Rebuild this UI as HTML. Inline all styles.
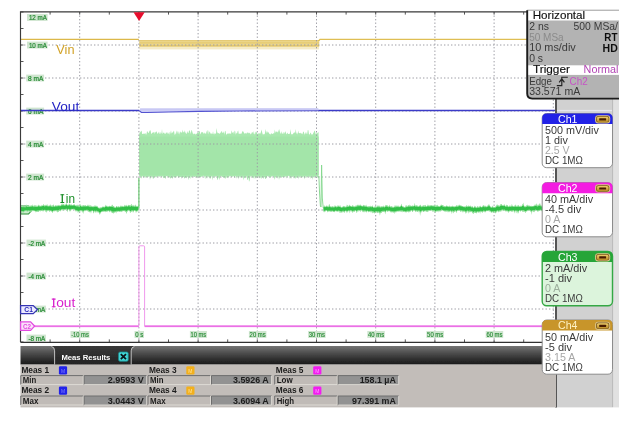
<!DOCTYPE html>
<html><head><meta charset="utf-8"><title>Oscilloscope</title>
<style>
html,body{margin:0;padding:0;background:#fff;}
svg{display:block;font-family:"Liberation Sans",sans-serif;}
</style></head><body>
<svg width="632" height="423" viewBox="0 0 632 423">
<defs><filter id="soft" x="0" y="0" width="632" height="423" filterUnits="userSpaceOnUse"><feGaussianBlur stdDeviation="0.38"/></filter></defs>
<g filter="url(#soft)">
<rect x="0" y="0" width="632" height="423" fill="#fff"/>
<rect x="556" y="10" width="57" height="397.4" fill="#d1d1d1"/>
<rect x="612.5" y="10" width="6.5" height="397.4" fill="#e1e1e1"/>
<rect x="612.1" y="99" width="1" height="308" fill="#b8b8b8"/>
<rect x="557" y="109.9" width="55" height="1.3" fill="#e6e6ee"/>
<rect x="20.5" y="12.0" width="535.5" height="330.0" fill="#fff"/>
<path d="M139.2 134.1 L139.8 132.6 L140.4 132.3 L141.0 130.9 L141.6 130.8 L142.2 134.0 L142.8 134.0 L143.4 133.4 L144.0 133.9 L144.6 133.7 L145.2 132.8 L145.8 134.6 L146.4 134.5 L147.0 131.3 L147.6 131.4 L148.2 133.3 L148.8 132.5 L149.4 131.3 L150.0 130.3 L150.6 130.6 L151.2 134.1 L151.8 133.5 L152.4 132.5 L153.0 132.8 L153.6 131.7 L154.2 134.0 L154.8 131.7 L155.4 132.7 L156.0 131.5 L156.6 131.5 L157.2 132.9 L157.8 133.9 L158.4 132.8 L159.0 131.4 L159.6 133.7 L160.2 133.9 L160.8 132.1 L161.4 133.7 L162.0 129.1 L162.6 134.2 L163.2 132.4 L163.8 132.7 L164.4 133.9 L165.0 132.2 L165.6 134.3 L166.2 132.9 L166.8 132.3 L167.4 132.6 L168.0 134.2 L168.6 133.3 L169.2 131.8 L169.8 134.7 L170.4 132.7 L171.0 130.2 L171.6 133.8 L172.2 132.1 L172.8 133.0 L173.4 131.4 L174.0 130.4 L174.6 134.7 L175.2 134.6 L175.8 133.2 L176.4 130.2 L177.0 134.3 L177.6 130.6 L178.2 134.2 L178.8 130.9 L179.4 134.7 L180.0 131.1 L180.6 132.6 L181.2 132.0 L181.8 133.2 L182.4 129.6 L183.0 132.9 L183.6 131.6 L184.2 132.6 L184.8 130.2 L185.4 132.6 L186.0 133.4 L186.6 134.0 L187.2 130.9 L187.8 132.7 L188.4 133.2 L189.0 130.8 L189.6 130.2 L190.2 131.7 L190.8 134.0 L191.4 129.8 L192.0 130.8 L192.6 132.7 L193.2 134.6 L193.8 133.6 L194.4 134.0 L195.0 133.3 L195.6 134.7 L196.2 133.7 L196.8 133.7 L197.4 132.6 L198.0 132.3 L198.6 132.9 L199.2 131.3 L199.8 130.9 L200.4 134.4 L201.0 133.3 L201.6 131.8 L202.2 132.4 L202.8 132.0 L203.4 132.9 L204.0 134.2 L204.6 132.3 L205.2 133.7 L205.8 133.4 L206.4 130.5 L207.0 134.3 L207.6 130.3 L208.2 130.5 L208.8 134.6 L209.4 131.2 L210.0 132.3 L210.6 133.6 L211.2 134.2 L211.8 133.1 L212.4 134.3 L213.0 131.2 L213.6 134.1 L214.2 134.6 L214.8 133.0 L215.4 133.8 L216.0 133.6 L216.6 127.9 L217.2 132.1 L217.8 133.3 L218.4 132.9 L219.0 133.5 L219.6 134.1 L220.2 132.0 L220.8 133.4 L221.4 130.9 L222.0 131.4 L222.6 133.1 L223.2 133.1 L223.8 131.2 L224.4 134.7 L225.0 130.7 L225.6 131.2 L226.2 134.6 L226.8 134.6 L227.4 133.6 L228.0 133.6 L228.6 133.6 L229.2 134.0 L229.8 133.1 L230.4 133.5 L231.0 134.2 L231.6 130.3 L232.2 132.3 L232.8 133.0 L233.4 131.5 L234.0 134.5 L234.6 130.4 L235.2 131.2 L235.8 134.7 L236.4 132.6 L237.0 133.7 L237.6 131.3 L238.2 130.4 L238.8 134.1 L239.4 133.5 L240.0 134.0 L240.6 133.5 L241.2 133.9 L241.8 132.8 L242.4 131.2 L243.0 131.3 L243.6 132.1 L244.2 133.4 L244.8 133.6 L245.4 132.7 L246.0 134.0 L246.6 133.2 L247.2 131.9 L247.8 133.3 L248.4 132.6 L249.0 133.8 L249.6 132.6 L250.2 133.6 L250.8 134.6 L251.4 133.6 L252.0 132.0 L252.6 132.2 L253.2 133.9 L253.8 131.1 L254.4 133.9 L255.0 134.6 L255.6 131.6 L256.2 132.5 L256.8 131.9 L257.4 134.4 L258.0 133.4 L258.6 133.4 L259.2 133.0 L259.8 133.8 L260.4 133.4 L261.0 131.8 L261.6 129.6 L262.2 132.5 L262.8 134.5 L263.4 134.6 L264.0 133.7 L264.6 134.6 L265.2 132.0 L265.8 129.0 L266.4 133.5 L267.0 130.5 L267.6 132.8 L268.2 131.7 L268.8 133.0 L269.4 133.7 L270.0 134.3 L270.6 134.6 L271.2 132.7 L271.8 134.1 L272.4 133.7 L273.0 134.1 L273.6 133.1 L274.2 133.6 L274.8 129.6 L275.4 133.0 L276.0 130.9 L276.6 131.9 L277.2 131.5 L277.8 132.8 L278.4 129.5 L279.0 132.7 L279.6 128.8 L280.2 132.7 L280.8 134.1 L281.4 131.0 L282.0 134.2 L282.6 133.5 L283.2 131.8 L283.8 134.1 L284.4 133.3 L285.0 131.7 L285.6 131.5 L286.2 134.4 L286.8 133.6 L287.4 132.6 L288.0 134.1 L288.6 133.9 L289.2 133.5 L289.8 134.2 L290.4 128.9 L291.0 133.4 L291.6 134.6 L292.2 134.2 L292.8 134.2 L293.4 133.3 L294.0 132.6 L294.6 132.6 L295.2 132.7 L295.8 129.0 L296.4 134.2 L297.0 132.2 L297.6 134.7 L298.2 130.5 L298.8 133.1 L299.4 132.9 L300.0 133.6 L300.6 132.5 L301.2 134.2 L301.8 132.8 L302.4 134.6 L303.0 131.9 L303.6 131.4 L304.2 133.2 L304.8 134.7 L305.4 133.3 L306.0 131.8 L306.6 133.7 L307.2 134.1 L307.8 130.1 L308.4 130.3 L309.0 134.6 L309.6 134.6 L310.2 133.2 L310.8 132.4 L311.4 134.4 L312.0 134.4 L312.6 134.5 L313.2 133.2 L313.8 132.3 L314.4 130.4 L315.0 131.3 L315.6 133.9 L316.2 134.4 L316.8 132.5 L317.4 133.5 L318.0 131.9 L318.6 132.6 L318.6 179.0 L318.0 176.7 L317.4 178.1 L316.8 176.6 L316.2 176.1 L315.6 178.1 L315.0 176.8 L314.4 176.4 L313.8 177.7 L313.2 176.8 L312.6 179.9 L312.0 176.0 L311.4 178.2 L310.8 176.4 L310.2 178.9 L309.6 176.3 L309.0 177.7 L308.4 175.9 L307.8 176.9 L307.2 176.8 L306.6 178.0 L306.0 176.0 L305.4 176.5 L304.8 179.5 L304.2 177.3 L303.6 176.0 L303.0 177.9 L302.4 176.8 L301.8 177.2 L301.2 178.0 L300.6 175.8 L300.0 177.9 L299.4 177.0 L298.8 175.9 L298.2 179.6 L297.6 176.3 L297.0 178.0 L296.4 177.1 L295.8 179.1 L295.2 177.3 L294.6 177.2 L294.0 179.1 L293.4 176.0 L292.8 177.1 L292.2 176.7 L291.6 176.8 L291.0 179.6 L290.4 176.0 L289.8 178.9 L289.2 176.1 L288.6 175.8 L288.0 176.3 L287.4 176.8 L286.8 175.9 L286.2 178.7 L285.6 176.1 L285.0 176.9 L284.4 176.8 L283.8 176.5 L283.2 177.6 L282.6 176.7 L282.0 177.5 L281.4 177.7 L280.8 176.7 L280.2 176.6 L279.6 177.4 L279.0 180.0 L278.4 176.3 L277.8 177.3 L277.2 178.7 L276.6 176.0 L276.0 177.3 L275.4 176.9 L274.8 180.1 L274.2 177.8 L273.6 176.5 L273.0 176.4 L272.4 176.1 L271.8 176.9 L271.2 175.9 L270.6 178.1 L270.0 177.4 L269.4 176.1 L268.8 177.2 L268.2 176.2 L267.6 176.2 L267.0 176.3 L266.4 178.1 L265.8 179.0 L265.2 178.7 L264.6 176.9 L264.0 177.0 L263.4 179.1 L262.8 177.6 L262.2 176.9 L261.6 179.2 L261.0 176.3 L260.4 178.5 L259.8 177.3 L259.2 178.4 L258.6 176.3 L258.0 176.6 L257.4 177.7 L256.8 178.2 L256.2 177.0 L255.6 176.4 L255.0 179.4 L254.4 175.9 L253.8 177.5 L253.2 178.5 L252.6 176.4 L252.0 178.3 L251.4 176.0 L250.8 175.9 L250.2 177.2 L249.6 180.7 L249.0 181.7 L248.4 176.4 L247.8 180.3 L247.2 179.4 L246.6 175.8 L246.0 178.6 L245.4 176.1 L244.8 178.5 L244.2 177.3 L243.6 180.4 L243.0 175.8 L242.4 177.7 L241.8 177.1 L241.2 177.6 L240.6 177.8 L240.0 176.2 L239.4 176.7 L238.8 179.6 L238.2 176.4 L237.6 176.8 L237.0 176.4 L236.4 178.8 L235.8 175.8 L235.2 176.3 L234.6 177.9 L234.0 177.1 L233.4 175.9 L232.8 176.3 L232.2 176.9 L231.6 177.3 L231.0 176.4 L230.4 176.1 L229.8 175.8 L229.2 176.7 L228.6 177.0 L228.0 178.5 L227.4 176.2 L226.8 178.2 L226.2 176.3 L225.6 178.6 L225.0 178.8 L224.4 177.1 L223.8 177.7 L223.2 177.2 L222.6 177.0 L222.0 177.0 L221.4 175.8 L220.8 177.0 L220.2 175.8 L219.6 180.6 L219.0 177.6 L218.4 177.4 L217.8 179.8 L217.2 179.8 L216.6 176.3 L216.0 176.0 L215.4 177.1 L214.8 176.3 L214.2 178.4 L213.6 176.3 L213.0 176.1 L212.4 180.4 L211.8 176.4 L211.2 176.3 L210.6 178.5 L210.0 178.8 L209.4 177.8 L208.8 176.2 L208.2 177.6 L207.6 175.9 L207.0 178.9 L206.4 176.7 L205.8 175.9 L205.2 179.2 L204.6 176.9 L204.0 175.9 L203.4 175.8 L202.8 176.1 L202.2 177.3 L201.6 176.2 L201.0 177.3 L200.4 177.0 L199.8 177.5 L199.2 177.0 L198.6 176.7 L198.0 178.5 L197.4 177.1 L196.8 177.4 L196.2 177.6 L195.6 176.1 L195.0 177.0 L194.4 177.1 L193.8 176.4 L193.2 176.7 L192.6 176.2 L192.0 177.5 L191.4 177.6 L190.8 176.1 L190.2 178.9 L189.6 177.6 L189.0 176.5 L188.4 180.2 L187.8 177.2 L187.2 176.4 L186.6 178.4 L186.0 177.3 L185.4 177.0 L184.8 178.8 L184.2 178.0 L183.6 176.9 L183.0 177.1 L182.4 177.3 L181.8 179.1 L181.2 176.4 L180.6 177.1 L180.0 176.9 L179.4 177.2 L178.8 176.8 L178.2 177.9 L177.6 175.9 L177.0 175.8 L176.4 177.6 L175.8 177.3 L175.2 177.6 L174.6 177.2 L174.0 177.2 L173.4 176.2 L172.8 178.7 L172.2 178.3 L171.6 176.5 L171.0 178.2 L170.4 178.5 L169.8 177.7 L169.2 177.1 L168.6 177.4 L168.0 176.9 L167.4 176.3 L166.8 176.3 L166.2 176.0 L165.6 179.0 L165.0 178.3 L164.4 176.9 L163.8 178.3 L163.2 177.8 L162.6 175.9 L162.0 176.4 L161.4 176.9 L160.8 176.2 L160.2 176.5 L159.6 176.4 L159.0 176.8 L158.4 176.3 L157.8 176.0 L157.2 176.9 L156.6 177.5 L156.0 176.0 L155.4 177.4 L154.8 176.5 L154.2 176.9 L153.6 178.5 L153.0 178.9 L152.4 176.7 L151.8 176.7 L151.2 176.5 L150.6 177.5 L150.0 180.1 L149.4 176.2 L148.8 176.7 L148.2 176.8 L147.6 176.4 L147.0 177.2 L146.4 177.2 L145.8 178.0 L145.2 176.2 L144.6 177.4 L144.0 176.0 L143.4 177.8 L142.8 176.5 L142.2 175.9 L141.6 178.8 L141.0 177.3 L140.4 176.2 L139.8 176.2 L139.2 176.7Z" fill="#a9e8af"/>
<rect x="139.20000000000002" y="136.5" width="179.5" height="38.6" fill="#a3e5a9"/>
<rect x="139.3" y="40.3" width="179.7" height="9.1" fill="#f5ebc6"/>
<rect x="139.3" y="40.3" width="179.9" height="6.7" fill="#ecd68c"/>
<path d="M139.3 42.9H319.2M139.3 45.6H319.2" stroke="#e3c76a" stroke-width="1" fill="none"/>
<path d="M139.3 40.6H319.2" stroke="#e0c262" stroke-width="0.8" fill="none"/>
<path d="M79.7 12.0V342.0M138.9 12.0V342.0M198.1 12.0V342.0M257.3 12.0V342.0M316.5 12.0V342.0M375.7 12.0V342.0M434.9 12.0V342.0M494.1 12.0V342.0M553.3 12.0V342.0M20.5 45.0H556.0M20.5 78.0H556.0M20.5 111.0H556.0M20.5 144.0H556.0M20.5 177.0H556.0M20.5 210.0H556.0M20.5 243.0H556.0M20.5 276.0H556.0M20.5 309.0H556.0" stroke="#9c9ca4" stroke-width="1" stroke-dasharray="1.4 2.1" fill="none"/>
<path d="M20.5 12.0v2.6M20.5 342.0v-2.6M50.1 12.0v2.6M50.1 342.0v-2.6M79.7 12.0v2.6M79.7 342.0v-2.6M109.3 12.0v2.6M109.3 342.0v-2.6M138.9 12.0v2.6M138.9 342.0v-2.6M168.5 12.0v2.6M168.5 342.0v-2.6M198.1 12.0v2.6M198.1 342.0v-2.6M227.7 12.0v2.6M227.7 342.0v-2.6M257.3 12.0v2.6M257.3 342.0v-2.6M286.9 12.0v2.6M286.9 342.0v-2.6M316.5 12.0v2.6M316.5 342.0v-2.6M346.1 12.0v2.6M346.1 342.0v-2.6M375.7 12.0v2.6M375.7 342.0v-2.6M405.3 12.0v2.6M405.3 342.0v-2.6M434.9 12.0v2.6M434.9 342.0v-2.6M464.5 12.0v2.6M464.5 342.0v-2.6M494.1 12.0v2.6M494.1 342.0v-2.6M523.7 12.0v2.6M523.7 342.0v-2.6M553.3 12.0v2.6M553.3 342.0v-2.6M20.5 12.0h3M20.5 28.5h3M20.5 45.0h3M20.5 61.5h3M20.5 78.0h3M20.5 94.5h3M20.5 111.0h3M20.5 127.5h3M20.5 144.0h3M20.5 160.5h3M20.5 177.0h3M20.5 193.5h3M20.5 210.0h3M20.5 226.5h3M20.5 243.0h3M20.5 259.5h3M20.5 276.0h3M20.5 292.5h3M20.5 309.0h3M20.5 325.5h3M20.5 342.0h3" stroke="#555" stroke-width="1" fill="none"/>
<rect x="27.0" y="14.0" width="20.6" height="6.9" fill="#cfe5cf"/>
<text x="46.9" y="19.9" font-size="6.9" fill="#258a33" stroke="#258a33" stroke-width="0.22" text-anchor="end" textLength="18.0" lengthAdjust="spacingAndGlyphs">12 mA</text>
<rect x="27.0" y="41.6" width="20.6" height="6.9" fill="#cfe5cf"/>
<text x="46.9" y="47.5" font-size="6.9" fill="#258a33" stroke="#258a33" stroke-width="0.22" text-anchor="end" textLength="18.0" lengthAdjust="spacingAndGlyphs">10 mA</text>
<rect x="26.2" y="74.6" width="17.9" height="6.9" fill="#cfe5cf"/>
<text x="43.4" y="80.5" font-size="6.9" fill="#258a33" stroke="#258a33" stroke-width="0.22" text-anchor="end" textLength="15.3" lengthAdjust="spacingAndGlyphs">8 mA</text>
<rect x="26.2" y="107.6" width="17.9" height="6.9" fill="#cfe5cf"/>
<text x="43.4" y="113.5" font-size="6.9" fill="#258a33" stroke="#258a33" stroke-width="0.22" text-anchor="end" textLength="15.3" lengthAdjust="spacingAndGlyphs">6 mA</text>
<rect x="26.2" y="140.6" width="17.9" height="6.9" fill="#cfe5cf"/>
<text x="43.4" y="146.5" font-size="6.9" fill="#258a33" stroke="#258a33" stroke-width="0.22" text-anchor="end" textLength="15.3" lengthAdjust="spacingAndGlyphs">4 mA</text>
<rect x="26.2" y="173.6" width="17.9" height="6.9" fill="#cfe5cf"/>
<text x="43.4" y="179.5" font-size="6.9" fill="#258a33" stroke="#258a33" stroke-width="0.22" text-anchor="end" textLength="15.3" lengthAdjust="spacingAndGlyphs">2 mA</text>
<rect x="26.5" y="239.6" width="19.4" height="6.9" fill="#cfe5cf"/>
<text x="45.2" y="245.5" font-size="6.9" fill="#258a33" stroke="#258a33" stroke-width="0.22" text-anchor="end" textLength="16.8" lengthAdjust="spacingAndGlyphs">-2 mA</text>
<rect x="26.5" y="272.6" width="19.4" height="6.9" fill="#cfe5cf"/>
<text x="45.2" y="278.5" font-size="6.9" fill="#258a33" stroke="#258a33" stroke-width="0.22" text-anchor="end" textLength="16.8" lengthAdjust="spacingAndGlyphs">-4 mA</text>
<rect x="26.5" y="305.6" width="19.4" height="6.9" fill="#cfe5cf"/>
<text x="45.2" y="311.5" font-size="6.9" fill="#258a33" stroke="#258a33" stroke-width="0.22" text-anchor="end" textLength="16.8" lengthAdjust="spacingAndGlyphs">-6 mA</text>
<rect x="26.5" y="334.6" width="19.4" height="6.9" fill="#cfe5cf"/>
<text x="45.2" y="340.5" font-size="6.9" fill="#258a33" stroke="#258a33" stroke-width="0.22" text-anchor="end" textLength="16.8" lengthAdjust="spacingAndGlyphs">-8 mA</text>
<rect x="70.5" y="331.0" width="19.0" height="6.9" fill="#cfe5cf"/>
<text x="88.8" y="336.9" font-size="6.5" fill="#258a33" stroke="#258a33" stroke-width="0.12" text-anchor="end" textLength="17.6" lengthAdjust="spacingAndGlyphs">-10 ms</text>
<rect x="134.5" y="331.0" width="9.5" height="6.9" fill="#cfe5cf"/>
<text x="143.3" y="336.9" font-size="6.5" fill="#258a33" stroke="#258a33" stroke-width="0.12" text-anchor="end" textLength="8.1" lengthAdjust="spacingAndGlyphs">0 s</text>
<rect x="189.9" y="331.0" width="17.0" height="6.9" fill="#cfe5cf"/>
<text x="206.2" y="336.9" font-size="6.5" fill="#258a33" stroke="#258a33" stroke-width="0.12" text-anchor="end" textLength="15.6" lengthAdjust="spacingAndGlyphs">10 ms</text>
<rect x="248.9" y="331.0" width="17.5" height="6.9" fill="#cfe5cf"/>
<text x="265.7" y="336.9" font-size="6.5" fill="#258a33" stroke="#258a33" stroke-width="0.12" text-anchor="end" textLength="16.1" lengthAdjust="spacingAndGlyphs">20 ms</text>
<rect x="308.1" y="331.0" width="17.5" height="6.9" fill="#cfe5cf"/>
<text x="324.9" y="336.9" font-size="6.5" fill="#258a33" stroke="#258a33" stroke-width="0.12" text-anchor="end" textLength="16.1" lengthAdjust="spacingAndGlyphs">30 ms</text>
<rect x="367.3" y="331.0" width="17.5" height="6.9" fill="#cfe5cf"/>
<text x="384.1" y="336.9" font-size="6.5" fill="#258a33" stroke="#258a33" stroke-width="0.12" text-anchor="end" textLength="16.1" lengthAdjust="spacingAndGlyphs">40 ms</text>
<rect x="426.4" y="331.0" width="17.5" height="6.9" fill="#cfe5cf"/>
<text x="443.2" y="336.9" font-size="6.5" fill="#258a33" stroke="#258a33" stroke-width="0.12" text-anchor="end" textLength="16.1" lengthAdjust="spacingAndGlyphs">50 ms</text>
<rect x="485.7" y="331.0" width="17.5" height="6.9" fill="#cfe5cf"/>
<text x="502.5" y="336.9" font-size="6.5" fill="#258a33" stroke="#258a33" stroke-width="0.12" text-anchor="end" textLength="16.1" lengthAdjust="spacingAndGlyphs">60 ms</text>
<path d="M20.5 39.3H138.9" stroke="#dcb84a" stroke-width="1.25" fill="none"/>
<path d="M318.5 41L320 39.3H556.0" stroke="#dfbe52" stroke-width="1.25" fill="none"/>
<path d="M140.1 108.7 L318.3 108.5 L318.3 110.7 L238.9 111.0 L198.9 111.4 L168.9 112.0 L146.9 112.5 L141.4 112.5 L139.2 110.6Z" fill="#cdcdf6"/>
<path d="M140.1 108.8H318.3" stroke="#b4b4ee" stroke-width="0.6" fill="none"/>
<path d="M20.5 110.6H139.20000000000002" stroke="#3a3ac8" stroke-width="1.5" fill="none"/>
<path d="M139.2 110.6 L141.4 112.5 L146.9 112.5 L168.9 112.0 L198.9 111.4 L238.9 111.0 L318.3 110.7" stroke="#5252d0" stroke-width="1.15" fill="none"/>
<path d="M318.3 110.6H556.0" stroke="#3a3ac8" stroke-width="1.5" fill="none"/>
<path d="M138.9 208V178" stroke="#6cc873" stroke-width="1.2" fill="none"/>
<path d="M318.9 176 L319.5 192 L320.4 206 L321 207 L321.6 165 L322.3 198 L323.2 207.5 L324 208.5" stroke="#86d88f" stroke-width="0.95" fill="none" stroke-linejoin="round"/>
<path d="M20.6 206H28.5L32 210L28.5 214H20.6Z" fill="#cdeccf" stroke="#2a8f36" stroke-width="1.1"/>
<path d="M20.8 205.4 L21.4 205.7 L22.0 206.1 L22.6 205.8 L23.2 205.1 L23.8 206.4 L24.4 206.1 L25.0 206.3 L25.6 206.7 L26.2 204.7 L26.8 204.7 L27.4 206.0 L28.0 205.7 L28.6 205.5 L29.2 206.3 L29.8 205.2 L30.4 206.1 L31.0 205.1 L31.6 205.4 L32.2 205.8 L32.8 204.2 L33.4 205.8 L34.0 206.5 L34.6 204.7 L35.2 205.3 L35.8 205.4 L36.4 205.8 L37.0 205.6 L37.6 206.1 L38.2 205.2 L38.8 204.6 L39.4 205.7 L40.0 205.3 L40.6 205.9 L41.2 206.1 L41.8 204.7 L42.4 205.5 L43.0 205.2 L43.6 203.8 L44.2 205.0 L44.8 205.4 L45.4 205.2 L46.0 204.5 L46.6 205.3 L47.2 204.1 L47.8 205.8 L48.4 205.6 L49.0 206.0 L49.6 205.2 L50.2 204.3 L50.8 205.0 L51.4 206.1 L52.0 204.7 L52.6 205.8 L53.2 204.6 L53.8 204.7 L54.4 206.1 L55.0 206.0 L55.6 204.9 L56.2 204.9 L56.8 206.0 L57.4 205.0 L58.0 205.8 L58.6 204.8 L59.2 205.3 L59.8 205.3 L60.4 205.6 L61.0 205.1 L61.6 203.9 L62.2 203.0 L62.8 204.7 L63.4 203.8 L64.0 204.3 L64.6 205.1 L65.2 204.3 L65.8 204.6 L66.4 202.7 L67.0 204.3 L67.6 205.1 L68.2 204.6 L68.8 204.8 L69.4 203.2 L70.0 204.4 L70.6 204.8 L71.2 203.9 L71.8 205.1 L72.4 204.9 L73.0 204.9 L73.6 204.4 L74.2 204.1 L74.8 204.7 L75.4 204.9 L76.0 205.7 L76.6 205.0 L77.2 204.4 L77.8 205.6 L78.4 204.6 L79.0 206.1 L79.6 206.0 L80.2 204.8 L80.8 204.3 L81.4 206.1 L82.0 205.5 L82.6 205.6 L83.2 205.3 L83.8 205.1 L84.4 205.6 L85.0 205.3 L85.6 205.1 L86.2 205.9 L86.8 205.8 L87.4 205.5 L88.0 204.3 L88.6 205.6 L89.2 206.1 L89.8 204.8 L90.4 205.1 L91.0 206.8 L91.6 205.5 L92.2 206.0 L92.8 206.5 L93.4 206.2 L94.0 205.8 L94.6 205.6 L95.2 206.0 L95.8 205.2 L96.4 205.9 L97.0 205.8 L97.6 206.3 L98.2 207.3 L98.8 207.8 L99.4 208.0 L100.0 207.1 L100.6 207.5 L101.2 207.5 L101.8 206.9 L102.4 206.5 L103.0 206.7 L103.6 206.4 L104.2 206.9 L104.8 206.5 L105.4 204.6 L106.0 206.2 L106.6 205.5 L107.2 205.8 L107.8 206.4 L108.4 206.2 L109.0 206.1 L109.6 205.7 L110.2 206.1 L110.8 206.0 L111.4 205.9 L112.0 204.6 L112.6 205.0 L113.2 206.1 L113.8 206.1 L114.4 206.8 L115.0 207.1 L115.6 207.5 L116.2 206.1 L116.8 206.1 L117.4 206.5 L118.0 206.9 L118.6 205.7 L119.2 206.8 L119.8 206.8 L120.4 205.8 L121.0 205.5 L121.6 206.1 L122.2 205.7 L122.8 206.1 L123.4 206.3 L124.0 206.3 L124.6 204.8 L125.2 205.0 L125.8 205.9 L126.4 204.4 L127.0 206.3 L127.6 205.7 L128.2 204.8 L128.8 204.9 L129.4 205.0 L130.0 205.2 L130.6 205.5 L131.2 203.8 L131.8 204.6 L132.4 205.9 L133.0 204.6 L133.6 205.8 L134.2 205.0 L134.8 206.5 L135.4 204.3 L136.0 205.6 L136.6 206.1 L137.2 206.0 L137.8 206.3 L138.4 202.7 L138.4 211.3 L137.8 211.0 L137.2 211.7 L136.6 211.6 L136.0 213.3 L135.4 210.9 L134.8 211.0 L134.2 210.8 L133.6 212.0 L133.0 212.7 L132.4 211.1 L131.8 211.5 L131.2 211.9 L130.6 212.7 L130.0 212.8 L129.4 210.5 L128.8 210.9 L128.2 210.6 L127.6 211.6 L127.0 212.2 L126.4 213.9 L125.8 212.1 L125.2 211.8 L124.6 211.3 L124.0 211.0 L123.4 211.1 L122.8 211.7 L122.2 211.1 L121.6 212.2 L121.0 211.5 L120.4 211.8 L119.8 212.0 L119.2 211.7 L118.6 211.6 L118.0 211.8 L117.4 211.9 L116.8 211.3 L116.2 213.4 L115.6 212.2 L115.0 211.8 L114.4 213.1 L113.8 213.3 L113.2 213.4 L112.6 213.0 L112.0 213.1 L111.4 212.2 L110.8 211.8 L110.2 211.0 L109.6 212.4 L109.0 211.5 L108.4 211.0 L107.8 210.9 L107.2 212.2 L106.6 212.1 L106.0 211.3 L105.4 212.3 L104.8 211.9 L104.2 211.3 L103.6 212.1 L103.0 211.4 L102.4 212.0 L101.8 211.8 L101.2 212.2 L100.6 213.3 L100.0 214.5 L99.4 214.5 L98.8 212.6 L98.2 212.4 L97.6 211.7 L97.0 213.2 L96.4 211.2 L95.8 212.6 L95.2 212.4 L94.6 211.1 L94.0 213.0 L93.4 213.5 L92.8 210.9 L92.2 210.9 L91.6 211.1 L91.0 213.8 L90.4 211.5 L89.8 212.5 L89.2 211.9 L88.6 211.4 L88.0 212.0 L87.4 210.3 L86.8 211.1 L86.2 210.4 L85.6 210.7 L85.0 211.4 L84.4 210.7 L83.8 211.6 L83.2 214.1 L82.6 212.2 L82.0 211.3 L81.4 211.2 L80.8 210.9 L80.2 211.4 L79.6 210.9 L79.0 213.7 L78.4 211.3 L77.8 213.0 L77.2 210.6 L76.6 211.7 L76.0 210.7 L75.4 211.8 L74.8 209.7 L74.2 210.0 L73.6 209.6 L73.0 209.5 L72.4 209.6 L71.8 209.6 L71.2 210.2 L70.6 211.8 L70.0 209.5 L69.4 212.0 L68.8 209.6 L68.2 209.5 L67.6 212.4 L67.0 210.5 L66.4 209.3 L65.8 210.3 L65.2 209.7 L64.6 209.7 L64.0 211.1 L63.4 210.3 L62.8 210.2 L62.2 209.5 L61.6 210.0 L61.0 210.7 L60.4 211.5 L59.8 210.8 L59.2 210.9 L58.6 212.1 L58.0 211.8 L57.4 212.7 L56.8 210.5 L56.2 212.1 L55.6 211.1 L55.0 210.9 L54.4 211.5 L53.8 211.2 L53.2 211.3 L52.6 213.3 L52.0 212.3 L51.4 211.5 L50.8 211.0 L50.2 211.3 L49.6 211.9 L49.0 211.3 L48.4 210.4 L47.8 211.4 L47.2 210.6 L46.6 212.9 L46.0 211.0 L45.4 211.9 L44.8 210.5 L44.2 210.5 L43.6 211.2 L43.0 211.5 L42.4 211.0 L41.8 211.0 L41.2 211.1 L40.6 211.4 L40.0 211.0 L39.4 211.1 L38.8 212.1 L38.2 211.8 L37.6 212.1 L37.0 211.5 L36.4 211.9 L35.8 212.4 L35.2 211.3 L34.6 211.1 L34.0 211.5 L33.4 210.7 L32.8 211.0 L32.2 211.2 L31.6 211.2 L31.0 212.4 L30.4 211.4 L29.8 212.8 L29.2 210.8 L28.6 211.3 L28.0 211.3 L27.4 211.9 L26.8 211.5 L26.2 211.0 L25.6 211.1 L25.0 211.2 L24.4 211.5 L23.8 212.8 L23.2 212.3 L22.6 212.2 L22.0 212.5 L21.4 212.8 L20.8 211.2Z" fill="#95e09d"/>
<path d="M20.8 206.9 L21.4 207.1 L22.0 207.2 L22.6 207.2 L23.2 206.8 L23.8 207.6 L24.4 207.3 L25.0 207.2 L25.6 207.4 L26.2 206.5 L26.8 206.4 L27.4 206.9 L28.0 207.0 L28.6 206.7 L29.2 207.1 L29.8 206.9 L30.4 207.1 L31.0 206.5 L31.6 206.7 L32.2 206.8 L32.8 206.1 L33.4 206.8 L34.0 207.4 L34.6 206.5 L35.2 206.8 L35.8 207.0 L36.4 207.1 L37.0 206.9 L37.6 207.0 L38.2 206.4 L38.8 206.1 L39.4 206.7 L40.0 206.5 L40.6 206.7 L41.2 206.9 L41.8 206.1 L42.4 206.2 L43.0 206.1 L43.6 205.8 L44.2 206.4 L44.8 206.5 L45.4 206.2 L46.0 206.0 L46.6 206.3 L47.2 205.9 L47.8 206.8 L48.4 206.6 L49.0 206.8 L49.6 206.3 L50.2 206.2 L50.8 206.6 L51.4 207.1 L52.0 206.5 L52.6 207.2 L53.2 206.5 L53.8 206.5 L54.4 207.0 L55.0 207.0 L55.6 206.3 L56.2 206.2 L56.8 206.7 L57.4 206.3 L58.0 206.5 L58.6 206.1 L59.2 206.2 L59.8 206.3 L60.4 206.3 L61.0 206.1 L61.6 205.5 L62.2 204.9 L62.8 205.8 L63.4 205.2 L64.0 205.4 L64.6 205.9 L65.2 205.5 L65.8 205.5 L66.4 204.6 L67.0 205.3 L67.6 205.9 L68.2 205.5 L68.8 205.7 L69.4 205.0 L70.0 205.5 L70.6 205.8 L71.2 205.3 L71.8 205.9 L72.4 205.8 L73.0 205.8 L73.6 205.5 L74.2 205.3 L74.8 205.8 L75.4 206.0 L76.0 206.6 L76.6 206.4 L77.2 206.2 L77.8 206.8 L78.4 206.5 L79.0 207.4 L79.6 207.1 L80.2 206.3 L80.8 206.0 L81.4 206.9 L82.0 206.7 L82.6 206.7 L83.2 206.5 L83.8 206.5 L84.4 206.6 L85.0 206.5 L85.6 206.5 L86.2 206.6 L86.8 206.6 L87.4 206.4 L88.0 206.1 L88.6 206.6 L89.2 207.2 L89.8 206.7 L90.4 206.8 L91.0 207.5 L91.6 206.8 L92.2 207.1 L92.8 207.3 L93.4 207.2 L94.0 207.1 L94.6 206.9 L95.2 207.0 L95.8 206.7 L96.4 207.1 L97.0 207.0 L97.6 207.5 L98.2 208.1 L98.8 208.5 L99.4 208.8 L100.0 208.4 L100.6 208.5 L101.2 208.4 L101.8 207.9 L102.4 207.6 L103.0 207.5 L103.6 207.3 L104.2 207.7 L104.8 207.6 L105.4 206.6 L106.0 207.1 L106.6 206.6 L107.2 207.0 L107.8 207.3 L108.4 207.2 L109.0 207.1 L109.6 206.8 L110.2 207.1 L110.8 207.0 L111.4 207.1 L112.0 206.7 L112.6 206.9 L113.2 207.4 L113.8 207.3 L114.4 207.9 L115.0 208.1 L115.6 208.3 L116.2 207.3 L116.8 207.2 L117.4 207.5 L118.0 207.8 L118.6 207.2 L119.2 207.5 L119.8 207.6 L120.4 207.2 L121.0 207.0 L121.6 207.2 L122.2 207.0 L122.8 207.0 L123.4 207.1 L124.0 207.2 L124.6 206.5 L125.2 206.5 L125.8 206.7 L126.4 206.1 L127.0 207.1 L127.6 206.7 L128.2 206.2 L128.8 206.2 L129.4 206.4 L130.0 206.6 L130.6 206.9 L131.2 205.9 L131.8 206.3 L132.4 206.7 L133.0 206.2 L133.6 206.8 L134.2 206.4 L134.8 207.2 L135.4 206.2 L136.0 206.9 L136.6 207.1 L137.2 207.0 L137.8 207.1 L138.4 205.5 L138.4 210.2 L137.8 210.1 L137.2 210.5 L136.6 210.4 L136.0 211.2 L135.4 210.0 L134.8 210.1 L134.2 209.9 L133.6 210.5 L133.0 210.7 L132.4 209.9 L131.8 210.2 L131.2 210.4 L130.6 211.0 L130.0 210.9 L129.4 209.8 L128.8 209.8 L128.2 209.7 L127.6 210.2 L127.0 210.6 L126.4 211.2 L125.8 210.4 L125.2 210.4 L124.6 210.3 L124.0 210.2 L123.4 210.2 L122.8 210.4 L122.2 210.3 L121.6 210.8 L121.0 210.6 L120.4 210.8 L119.8 210.9 L119.2 210.7 L118.6 210.7 L118.0 210.9 L117.4 210.8 L116.8 210.4 L116.2 211.5 L115.6 211.3 L115.0 211.1 L114.4 211.6 L113.8 211.4 L113.2 211.5 L112.6 211.4 L112.0 211.3 L111.4 210.8 L110.8 210.5 L110.2 210.2 L109.6 210.7 L109.0 210.4 L108.4 210.2 L107.8 210.2 L107.2 210.8 L106.6 210.4 L106.0 210.4 L105.4 210.9 L104.8 210.9 L104.2 210.6 L103.6 210.8 L103.0 210.5 L102.4 211.0 L101.8 210.9 L101.2 211.4 L100.6 212.0 L100.0 212.6 L99.4 212.6 L98.8 211.6 L98.2 211.2 L97.6 210.8 L97.0 211.3 L96.4 210.3 L95.8 210.9 L95.2 210.7 L94.6 210.2 L94.0 211.2 L93.4 211.3 L92.8 210.2 L92.2 210.2 L91.6 210.2 L91.0 211.5 L90.4 210.6 L89.8 211.0 L89.2 210.7 L88.6 210.1 L88.0 210.4 L87.4 209.4 L86.8 209.9 L86.2 209.5 L85.6 209.9 L85.0 210.2 L84.4 209.8 L83.8 210.3 L83.2 211.3 L82.6 210.6 L82.0 210.2 L81.4 210.1 L80.8 209.9 L80.2 210.1 L79.6 210.2 L79.0 211.6 L78.4 210.4 L77.8 211.0 L77.2 209.9 L76.6 210.3 L76.0 209.7 L75.4 209.9 L74.8 208.9 L74.2 208.8 L73.6 208.7 L73.0 208.8 L72.4 208.9 L71.8 208.8 L71.2 209.0 L70.6 209.8 L70.0 208.8 L69.4 209.8 L68.8 208.8 L68.2 208.7 L67.6 210.0 L67.0 209.0 L66.4 208.4 L65.8 209.0 L65.2 208.8 L64.6 208.9 L64.0 209.4 L63.4 209.0 L62.8 209.2 L62.2 208.7 L61.6 209.1 L61.0 209.5 L60.4 209.9 L59.8 209.6 L59.2 209.6 L58.6 210.3 L58.0 210.1 L57.4 210.6 L56.8 209.7 L56.2 210.3 L55.6 210.0 L55.0 210.2 L54.4 210.3 L53.8 210.3 L53.2 210.4 L52.6 211.4 L52.0 210.8 L51.4 210.4 L50.8 210.2 L50.2 210.2 L49.6 210.2 L49.0 210.1 L48.4 209.7 L47.8 210.2 L47.2 209.7 L46.6 210.6 L46.0 209.8 L45.4 210.0 L44.8 209.7 L44.2 209.8 L43.6 210.0 L43.0 209.9 L42.4 209.6 L41.8 209.8 L41.2 210.1 L40.6 210.1 L40.0 209.9 L39.4 210.1 L38.8 210.4 L38.2 210.3 L37.6 210.6 L37.0 210.4 L36.4 210.7 L35.8 211.0 L35.2 210.4 L34.6 210.3 L34.0 210.5 L33.4 210.0 L32.8 210.0 L32.2 210.1 L31.6 210.2 L31.0 210.6 L30.4 210.3 L29.8 211.1 L29.2 210.0 L28.6 210.2 L28.0 210.4 L27.4 210.5 L26.8 210.3 L26.2 210.3 L25.6 210.3 L25.0 210.3 L24.4 210.6 L23.8 211.4 L23.2 210.9 L22.6 210.9 L22.0 211.0 L21.4 211.2 L20.8 210.4Z" fill="#30bf47"/>
<path d="M323.5 206.4 L324.1 205.1 L324.7 206.2 L325.3 206.4 L325.9 206.3 L326.5 205.4 L327.1 205.6 L327.7 206.2 L328.3 206.9 L328.9 204.4 L329.5 204.1 L330.1 206.1 L330.7 206.6 L331.3 206.6 L331.9 206.6 L332.5 206.1 L333.1 206.4 L333.7 206.6 L334.3 206.9 L334.9 204.7 L335.5 206.0 L336.1 205.9 L336.7 206.7 L337.3 205.1 L337.9 206.4 L338.5 205.0 L339.1 206.4 L339.7 205.4 L340.3 205.3 L340.9 206.9 L341.5 207.1 L342.1 206.7 L342.7 206.7 L343.3 205.8 L343.9 206.3 L344.5 206.1 L345.1 206.7 L345.7 206.6 L346.3 206.7 L346.9 204.5 L347.5 205.3 L348.1 205.8 L348.7 205.9 L349.3 204.4 L349.9 205.4 L350.5 205.7 L351.1 206.3 L351.7 206.1 L352.3 205.4 L352.9 205.1 L353.5 206.0 L354.1 206.5 L354.7 206.0 L355.3 206.5 L355.9 205.0 L356.5 206.1 L357.1 204.5 L357.7 205.0 L358.3 205.3 L358.9 204.4 L359.5 205.6 L360.1 204.2 L360.7 205.1 L361.3 205.6 L361.9 205.7 L362.5 205.9 L363.1 205.2 L363.7 204.7 L364.3 205.4 L364.9 205.2 L365.5 205.9 L366.1 204.6 L366.7 205.9 L367.3 206.4 L367.9 206.2 L368.5 206.3 L369.1 206.0 L369.7 206.3 L370.3 206.2 L370.9 205.5 L371.5 206.6 L372.1 206.0 L372.7 205.3 L373.3 206.9 L373.9 207.3 L374.5 206.5 L375.1 206.5 L375.7 206.0 L376.3 206.5 L376.9 206.8 L377.5 205.3 L378.1 206.1 L378.7 205.6 L379.3 205.4 L379.9 206.6 L380.5 206.7 L381.1 206.0 L381.7 206.6 L382.3 206.1 L382.9 206.7 L383.5 205.2 L384.1 206.8 L384.7 206.5 L385.3 205.4 L385.9 204.8 L386.5 205.2 L387.1 205.2 L387.7 205.4 L388.3 206.0 L388.9 206.6 L389.5 204.6 L390.1 206.3 L390.7 206.5 L391.3 206.3 L391.9 206.0 L392.5 206.8 L393.1 207.0 L393.7 206.8 L394.3 206.7 L394.9 204.9 L395.5 206.0 L396.1 205.2 L396.7 206.0 L397.3 205.7 L397.9 205.8 L398.5 205.6 L399.1 206.8 L399.7 206.2 L400.3 206.2 L400.9 205.3 L401.5 203.6 L402.1 205.7 L402.7 206.5 L403.3 206.2 L403.9 206.8 L404.5 206.9 L405.1 207.0 L405.7 205.2 L406.3 205.4 L406.9 205.4 L407.5 206.6 L408.1 205.0 L408.7 205.4 L409.3 204.5 L409.9 205.9 L410.5 205.3 L411.1 205.8 L411.7 206.0 L412.3 205.2 L412.9 205.8 L413.5 205.8 L414.1 205.8 L414.7 202.8 L415.3 205.6 L415.9 205.4 L416.5 205.3 L417.1 205.1 L417.7 206.1 L418.3 206.4 L418.9 205.8 L419.5 205.4 L420.1 205.3 L420.7 204.6 L421.3 205.9 L421.9 206.5 L422.5 205.5 L423.1 205.8 L423.7 205.0 L424.3 205.3 L424.9 205.6 L425.5 204.7 L426.1 205.9 L426.7 206.1 L427.3 205.7 L427.9 204.3 L428.5 205.3 L429.1 205.9 L429.7 205.1 L430.3 205.5 L430.9 205.1 L431.5 205.2 L432.1 205.1 L432.7 205.7 L433.3 205.8 L433.9 204.9 L434.5 205.1 L435.1 205.5 L435.7 205.5 L436.3 205.1 L436.9 205.7 L437.5 204.4 L438.1 206.3 L438.7 205.8 L439.3 206.2 L439.9 206.1 L440.5 205.4 L441.1 204.2 L441.7 204.9 L442.3 205.1 L442.9 205.0 L443.5 205.6 L444.1 205.9 L444.7 206.0 L445.3 206.3 L445.9 206.0 L446.5 205.3 L447.1 206.0 L447.7 205.8 L448.3 206.3 L448.9 206.2 L449.5 205.4 L450.1 206.1 L450.7 206.4 L451.3 206.3 L451.9 205.9 L452.5 205.5 L453.1 206.4 L453.7 206.1 L454.3 206.3 L454.9 206.5 L455.5 205.9 L456.1 205.8 L456.7 205.0 L457.3 205.3 L457.9 206.2 L458.5 205.3 L459.1 204.6 L459.7 205.0 L460.3 204.9 L460.9 205.7 L461.5 205.4 L462.1 206.1 L462.7 206.1 L463.3 206.5 L463.9 206.2 L464.5 206.4 L465.1 206.3 L465.7 206.6 L466.3 205.3 L466.9 205.5 L467.5 206.3 L468.1 206.0 L468.7 205.2 L469.3 206.3 L469.9 205.7 L470.5 205.5 L471.1 207.0 L471.7 206.2 L472.3 206.0 L472.9 206.8 L473.5 207.5 L474.1 207.0 L474.7 205.5 L475.3 206.6 L475.9 206.6 L476.5 207.6 L477.1 206.8 L477.7 205.7 L478.3 207.1 L478.9 206.4 L479.5 206.4 L480.1 205.4 L480.7 206.2 L481.3 206.9 L481.9 206.8 L482.5 205.9 L483.1 205.3 L483.7 205.2 L484.3 205.5 L484.9 206.3 L485.5 205.5 L486.1 206.3 L486.7 206.4 L487.3 205.8 L487.9 205.2 L488.5 204.4 L489.1 204.3 L489.7 205.3 L490.3 206.6 L490.9 206.6 L491.5 207.1 L492.1 206.7 L492.7 205.4 L493.3 206.8 L493.9 207.3 L494.5 206.9 L495.1 206.7 L495.7 206.5 L496.3 205.4 L496.9 204.4 L497.5 204.6 L498.1 205.4 L498.7 205.0 L499.3 206.0 L499.9 205.0 L500.5 204.2 L501.1 204.0 L501.7 203.9 L502.3 205.4 L502.9 204.7 L503.5 205.4 L504.1 204.0 L504.7 204.7 L505.3 205.8 L505.9 205.9 L506.5 204.6 L507.1 205.3 L507.7 205.1 L508.3 206.2 L508.9 206.5 L509.5 205.2 L510.1 206.1 L510.7 205.6 L511.3 206.0 L511.9 203.8 L512.5 205.8 L513.1 206.1 L513.7 206.3 L514.3 206.1 L514.9 205.1 L515.5 204.6 L516.1 205.9 L516.7 205.8 L517.3 205.3 L517.9 206.0 L518.5 204.8 L519.1 205.7 L519.7 206.2 L520.3 205.6 L520.9 206.1 L521.5 206.2 L522.1 204.5 L522.7 204.3 L523.3 202.6 L523.9 205.0 L524.5 206.3 L525.1 206.3 L525.7 206.3 L526.3 205.0 L526.9 205.7 L527.5 204.2 L528.1 206.1 L528.7 205.1 L529.3 205.8 L529.9 205.4 L530.5 206.0 L531.1 206.1 L531.7 205.8 L532.3 205.9 L532.9 206.0 L533.5 205.7 L534.1 205.7 L534.7 204.6 L535.3 204.9 L535.9 204.3 L536.5 203.2 L537.1 205.7 L537.7 204.6 L538.3 204.4 L538.9 204.9 L539.5 203.6 L540.1 203.2 L540.7 205.3 L541.3 205.2 L541.9 206.0 L542.5 205.2 L543.1 204.4 L543.7 205.8 L544.3 204.3 L544.9 205.6 L545.5 206.2 L546.1 206.1 L546.7 205.8 L547.3 206.5 L547.9 206.3 L548.5 205.3 L549.1 204.5 L549.7 205.2 L550.3 206.9 L550.9 206.1 L551.5 206.2 L552.1 204.9 L552.7 205.1 L553.3 206.6 L553.9 205.8 L554.5 206.4 L554.5 213.1 L553.9 211.9 L553.3 211.4 L552.7 211.5 L552.1 212.2 L551.5 212.3 L550.9 211.3 L550.3 213.2 L549.7 211.9 L549.1 212.8 L548.5 210.9 L547.9 211.3 L547.3 212.5 L546.7 211.8 L546.1 210.9 L545.5 211.0 L544.9 211.8 L544.3 210.6 L543.7 210.5 L543.1 211.1 L542.5 211.2 L541.9 211.1 L541.3 211.2 L540.7 210.5 L540.1 210.4 L539.5 211.0 L538.9 210.9 L538.3 211.6 L537.7 212.1 L537.1 210.8 L536.5 210.7 L535.9 210.4 L535.3 210.3 L534.7 212.5 L534.1 210.9 L533.5 212.2 L532.9 211.6 L532.3 210.8 L531.7 214.9 L531.1 211.0 L530.5 211.9 L529.9 210.7 L529.3 210.8 L528.7 210.8 L528.1 210.5 L527.5 210.7 L526.9 211.7 L526.3 211.3 L525.7 212.9 L525.1 212.5 L524.5 211.6 L523.9 211.8 L523.3 211.7 L522.7 212.0 L522.1 211.3 L521.5 210.8 L520.9 211.0 L520.3 211.9 L519.7 210.6 L519.1 211.3 L518.5 213.1 L517.9 213.8 L517.3 211.4 L516.7 213.4 L516.1 210.6 L515.5 211.2 L514.9 213.5 L514.3 211.9 L513.7 211.0 L513.1 211.4 L512.5 211.8 L511.9 211.3 L511.3 212.0 L510.7 211.2 L510.1 211.1 L509.5 211.5 L508.9 212.1 L508.3 213.0 L507.7 211.7 L507.1 211.1 L506.5 211.2 L505.9 212.1 L505.3 210.8 L504.7 210.5 L504.1 210.5 L503.5 211.0 L502.9 211.2 L502.3 210.1 L501.7 210.5 L501.1 211.7 L500.5 211.4 L499.9 211.3 L499.3 211.7 L498.7 212.6 L498.1 211.6 L497.5 211.3 L496.9 211.7 L496.3 212.5 L495.7 213.4 L495.1 212.9 L494.5 211.4 L493.9 212.5 L493.3 213.0 L492.7 212.4 L492.1 211.7 L491.5 213.0 L490.9 212.4 L490.3 211.3 L489.7 211.6 L489.1 211.4 L488.5 210.9 L487.9 211.2 L487.3 211.1 L486.7 211.1 L486.1 211.5 L485.5 212.3 L484.9 212.4 L484.3 211.6 L483.7 211.7 L483.1 211.6 L482.5 213.3 L481.9 212.1 L481.3 212.3 L480.7 211.2 L480.1 214.1 L479.5 211.9 L478.9 212.2 L478.3 212.9 L477.7 211.8 L477.1 212.8 L476.5 213.5 L475.9 213.0 L475.3 213.0 L474.7 212.5 L474.1 212.9 L473.5 213.9 L472.9 213.6 L472.3 212.9 L471.7 212.0 L471.1 211.8 L470.5 212.3 L469.9 212.0 L469.3 212.3 L468.7 213.7 L468.1 211.3 L467.5 211.2 L466.9 213.6 L466.3 212.0 L465.7 213.9 L465.1 211.7 L464.5 211.5 L463.9 212.5 L463.3 211.3 L462.7 212.7 L462.1 210.9 L461.5 211.4 L460.9 211.3 L460.3 212.2 L459.7 210.4 L459.1 211.1 L458.5 210.4 L457.9 210.9 L457.3 210.7 L456.7 213.1 L456.1 212.2 L455.5 211.0 L454.9 211.9 L454.3 211.8 L453.7 213.5 L453.1 212.0 L452.5 211.3 L451.9 214.2 L451.3 211.7 L450.7 211.7 L450.1 211.1 L449.5 211.9 L448.9 212.5 L448.3 211.5 L447.7 212.4 L447.1 210.8 L446.5 211.8 L445.9 212.2 L445.3 211.2 L444.7 211.5 L444.1 211.5 L443.5 211.1 L442.9 210.8 L442.3 210.6 L441.7 210.1 L441.1 211.2 L440.5 211.3 L439.9 211.9 L439.3 211.0 L438.7 211.1 L438.1 212.6 L437.5 210.9 L436.9 211.9 L436.3 211.1 L435.7 213.3 L435.1 212.1 L434.5 211.4 L433.9 211.4 L433.3 211.5 L432.7 211.4 L432.1 211.4 L431.5 210.3 L430.9 210.8 L430.3 211.1 L429.7 211.1 L429.1 210.7 L428.5 211.5 L427.9 211.6 L427.3 212.2 L426.7 211.4 L426.1 212.1 L425.5 211.0 L424.9 211.5 L424.3 211.3 L423.7 212.1 L423.1 211.9 L422.5 210.9 L421.9 211.2 L421.3 212.4 L420.7 212.5 L420.1 215.9 L419.5 211.0 L418.9 212.7 L418.3 210.8 L417.7 211.9 L417.1 212.0 L416.5 211.1 L415.9 212.3 L415.3 211.4 L414.7 211.0 L414.1 210.4 L413.5 210.3 L412.9 212.0 L412.3 212.0 L411.7 210.6 L411.1 211.0 L410.5 211.4 L409.9 212.5 L409.3 211.5 L408.7 212.7 L408.1 211.7 L407.5 212.1 L406.9 211.6 L406.3 212.8 L405.7 211.7 L405.1 212.7 L404.5 211.5 L403.9 212.0 L403.3 212.1 L402.7 211.2 L402.1 212.4 L401.5 211.4 L400.9 211.8 L400.3 211.4 L399.7 211.6 L399.1 211.5 L398.5 211.6 L397.9 212.0 L397.3 211.2 L396.7 211.7 L396.1 212.6 L395.5 212.5 L394.9 211.8 L394.3 214.1 L393.7 212.6 L393.1 212.5 L392.5 211.9 L391.9 213.0 L391.3 211.8 L390.7 212.4 L390.1 211.8 L389.5 211.2 L388.9 211.0 L388.3 211.5 L387.7 211.8 L387.1 211.7 L386.5 211.0 L385.9 211.6 L385.3 214.5 L384.7 211.9 L384.1 211.5 L383.5 211.9 L382.9 211.9 L382.3 211.7 L381.7 212.8 L381.1 213.0 L380.5 212.9 L379.9 215.8 L379.3 212.7 L378.7 212.7 L378.1 212.6 L377.5 213.2 L376.9 212.6 L376.3 212.2 L375.7 212.0 L375.1 212.8 L374.5 213.8 L373.9 212.8 L373.3 212.7 L372.7 212.5 L372.1 213.4 L371.5 211.4 L370.9 212.7 L370.3 211.4 L369.7 212.0 L369.1 211.7 L368.5 212.4 L367.9 211.3 L367.3 211.3 L366.7 212.2 L366.1 212.6 L365.5 211.8 L364.9 211.0 L364.3 212.5 L363.7 211.5 L363.1 212.5 L362.5 211.7 L361.9 210.8 L361.3 210.3 L360.7 211.7 L360.1 211.4 L359.5 211.1 L358.9 210.4 L358.3 211.7 L357.7 210.9 L357.1 212.5 L356.5 213.1 L355.9 210.9 L355.3 210.8 L354.7 211.9 L354.1 211.4 L353.5 211.5 L352.9 212.7 L352.3 212.5 L351.7 211.2 L351.1 211.4 L350.5 211.5 L349.9 210.6 L349.3 213.5 L348.7 210.9 L348.1 211.3 L347.5 211.9 L346.9 213.2 L346.3 211.4 L345.7 211.3 L345.1 211.3 L344.5 213.1 L343.9 212.6 L343.3 211.7 L342.7 211.3 L342.1 213.0 L341.5 212.4 L340.9 212.2 L340.3 212.7 L339.7 213.0 L339.1 211.1 L338.5 211.8 L337.9 211.2 L337.3 212.0 L336.7 211.7 L336.1 211.1 L335.5 211.0 L334.9 212.2 L334.3 212.0 L333.7 212.1 L333.1 212.0 L332.5 211.2 L331.9 211.4 L331.3 212.1 L330.7 211.5 L330.1 212.0 L329.5 211.2 L328.9 211.4 L328.3 211.4 L327.7 212.4 L327.1 211.3 L326.5 210.7 L325.9 210.8 L325.3 211.7 L324.7 211.4 L324.1 212.4 L323.5 211.7Z" fill="#95e09d"/>
<path d="M323.5 207.3 L324.1 206.7 L324.7 207.2 L325.3 207.3 L325.9 207.1 L326.5 206.7 L327.1 206.8 L327.7 207.3 L328.3 207.6 L328.9 206.4 L329.5 206.4 L330.1 207.2 L330.7 207.3 L331.3 207.4 L331.9 207.5 L332.5 207.2 L333.1 207.4 L333.7 207.5 L334.3 207.8 L334.9 206.5 L335.5 207.1 L336.1 207.2 L336.7 207.6 L337.3 206.9 L337.9 207.3 L338.5 206.6 L339.1 207.1 L339.7 206.9 L340.3 206.9 L340.9 207.8 L341.5 208.0 L342.1 207.7 L342.7 207.5 L343.3 207.1 L343.9 207.5 L344.5 207.2 L345.1 207.4 L345.7 207.5 L346.3 207.4 L346.9 206.4 L347.5 206.9 L348.1 207.0 L348.7 207.0 L349.3 206.2 L349.9 206.5 L350.5 206.6 L351.1 207.0 L351.7 207.1 L352.3 206.7 L352.9 206.7 L353.5 207.1 L354.1 207.4 L354.7 207.0 L355.3 207.3 L355.9 206.6 L356.5 206.9 L357.1 206.3 L357.7 206.5 L358.3 206.4 L358.9 206.1 L359.5 206.5 L360.1 205.8 L360.7 206.2 L361.3 206.3 L361.9 206.6 L362.5 206.7 L363.1 206.6 L363.7 206.3 L364.3 206.7 L364.9 206.6 L365.5 206.9 L366.1 206.6 L366.7 207.0 L367.3 207.3 L367.9 207.3 L368.5 207.5 L369.1 207.3 L369.7 207.5 L370.3 207.3 L370.9 207.1 L371.5 207.5 L372.1 207.0 L372.7 207.0 L373.3 207.8 L373.9 208.1 L374.5 207.7 L375.1 207.8 L375.7 207.7 L376.3 207.6 L376.9 207.7 L377.5 207.1 L378.1 207.5 L378.7 207.2 L379.3 207.0 L379.9 207.7 L380.5 207.7 L381.1 207.2 L381.7 207.4 L382.3 207.3 L382.9 207.5 L383.5 207.0 L384.1 207.6 L384.7 207.4 L385.3 206.9 L385.9 206.6 L386.5 206.6 L387.1 206.8 L387.7 206.9 L388.3 207.2 L388.9 207.4 L389.5 206.6 L390.1 207.2 L390.7 207.4 L391.3 207.4 L391.9 207.4 L392.5 207.8 L393.1 208.0 L393.7 207.8 L394.3 207.5 L394.9 206.9 L395.5 207.4 L396.1 206.9 L396.7 207.3 L397.3 207.1 L397.9 207.2 L398.5 207.0 L399.1 207.5 L399.7 207.1 L400.3 206.9 L400.9 206.6 L401.5 205.8 L402.1 206.6 L402.7 207.2 L403.3 207.2 L403.9 207.7 L404.5 207.8 L405.1 208.1 L405.7 207.2 L406.3 207.2 L406.9 206.9 L407.5 207.3 L408.1 206.6 L408.7 206.8 L409.3 206.4 L409.9 207.1 L410.5 206.6 L411.1 206.8 L411.7 206.8 L412.3 206.5 L412.9 206.7 L413.5 206.6 L414.1 206.6 L414.7 205.5 L415.3 206.8 L415.9 206.8 L416.5 206.6 L417.1 206.6 L417.7 207.0 L418.3 207.1 L418.9 206.7 L419.5 206.5 L420.1 206.4 L420.7 206.5 L421.3 207.0 L421.9 207.4 L422.5 206.8 L423.1 206.9 L423.7 206.6 L424.3 206.9 L424.9 206.9 L425.5 206.4 L426.1 206.9 L426.7 207.0 L427.3 206.7 L427.9 205.9 L428.5 206.4 L429.1 206.8 L429.7 206.5 L430.3 206.4 L430.9 206.2 L431.5 206.3 L432.1 206.2 L432.7 206.6 L433.3 206.6 L433.9 206.4 L434.5 206.4 L435.1 206.9 L435.7 206.9 L436.3 206.7 L436.9 207.0 L437.5 206.4 L438.1 207.1 L438.7 206.8 L439.3 207.0 L439.9 207.0 L440.5 206.5 L441.1 205.8 L441.7 206.1 L442.3 206.5 L442.9 206.6 L443.5 206.9 L444.1 206.9 L444.7 207.2 L445.3 207.3 L445.9 207.0 L446.5 206.5 L447.1 206.8 L447.7 206.9 L448.3 207.1 L448.9 207.2 L449.5 206.9 L450.1 207.2 L450.7 207.3 L451.3 207.1 L451.9 207.2 L452.5 206.8 L453.1 207.2 L453.7 207.1 L454.3 207.2 L454.9 207.3 L455.5 206.9 L456.1 206.9 L456.7 206.6 L457.3 206.7 L457.9 206.9 L458.5 206.4 L459.1 206.1 L459.7 206.2 L460.3 206.3 L460.9 206.6 L461.5 206.6 L462.1 206.8 L462.7 206.8 L463.3 207.3 L463.9 207.0 L464.5 207.3 L465.1 207.5 L465.7 207.5 L466.3 206.7 L466.9 206.9 L467.5 207.2 L468.1 207.1 L468.7 206.8 L469.3 207.1 L469.9 206.7 L470.5 206.8 L471.1 207.7 L471.7 207.5 L472.3 207.2 L472.9 207.7 L473.5 208.2 L474.1 207.9 L474.7 207.0 L475.3 207.7 L475.9 207.8 L476.5 208.3 L477.1 208.1 L477.7 207.4 L478.3 208.0 L478.9 207.8 L479.5 207.7 L480.1 207.0 L480.7 207.3 L481.3 207.6 L481.9 207.5 L482.5 207.2 L483.1 206.8 L483.7 206.6 L484.3 206.9 L484.9 207.4 L485.5 207.0 L486.1 207.3 L486.7 207.3 L487.3 207.0 L487.9 206.8 L488.5 206.2 L489.1 206.1 L489.7 206.6 L490.3 207.3 L490.9 207.7 L491.5 208.1 L492.1 207.8 L492.7 207.3 L493.3 207.8 L493.9 208.0 L494.5 207.7 L495.1 207.8 L495.7 207.7 L496.3 207.1 L496.9 206.4 L497.5 206.3 L498.1 206.7 L498.7 206.4 L499.3 207.0 L499.9 206.4 L500.5 206.1 L501.1 205.8 L501.7 205.6 L502.3 206.1 L502.9 205.9 L503.5 206.3 L504.1 205.8 L504.7 206.1 L505.3 206.8 L505.9 207.0 L506.5 206.5 L507.1 206.8 L507.7 206.5 L508.3 207.1 L508.9 207.3 L509.5 206.8 L510.1 207.1 L510.7 207.0 L511.3 207.2 L511.9 205.9 L512.5 206.8 L513.1 206.8 L513.7 207.0 L514.3 207.1 L514.9 206.7 L515.5 206.5 L516.1 206.9 L516.7 206.9 L517.3 206.7 L517.9 206.9 L518.5 206.5 L519.1 206.9 L519.7 206.9 L520.3 207.0 L520.9 207.0 L521.5 206.9 L522.1 206.1 L522.7 205.9 L523.3 205.2 L523.9 206.4 L524.5 207.2 L525.1 207.2 L525.7 207.3 L526.3 206.7 L526.9 207.1 L527.5 206.1 L528.1 206.8 L528.7 206.4 L529.3 206.7 L529.9 206.4 L530.5 206.8 L531.1 207.0 L531.7 206.8 L532.3 206.8 L532.9 206.7 L533.5 206.5 L534.1 206.5 L534.7 206.0 L535.3 206.1 L535.9 205.9 L536.5 205.7 L537.1 206.9 L537.7 206.3 L538.3 206.1 L538.9 206.2 L539.5 205.7 L540.1 205.5 L540.7 206.5 L541.3 206.5 L541.9 206.7 L542.5 206.4 L543.1 205.9 L543.7 206.6 L544.3 206.0 L544.9 206.6 L545.5 207.0 L546.1 206.9 L546.7 207.1 L547.3 207.4 L547.9 207.2 L548.5 206.6 L549.1 206.3 L549.7 206.8 L550.3 207.6 L550.9 207.2 L551.5 207.4 L552.1 206.7 L552.7 206.8 L553.3 207.3 L553.9 207.0 L554.5 207.3 L554.5 211.2 L553.9 210.6 L553.3 210.4 L552.7 210.5 L552.1 210.8 L551.5 211.0 L550.9 210.5 L550.3 211.3 L549.7 210.6 L549.1 210.9 L548.5 210.1 L547.9 210.3 L547.3 211.0 L546.7 210.6 L546.1 210.0 L545.5 210.0 L544.9 210.3 L544.3 209.7 L543.7 209.6 L543.1 209.8 L542.5 210.0 L541.9 209.9 L541.3 210.1 L540.7 209.7 L540.1 209.6 L539.5 210.0 L538.9 209.8 L538.3 210.2 L537.7 210.5 L537.1 210.1 L536.5 209.9 L535.9 209.6 L535.3 209.4 L534.7 210.4 L534.1 209.8 L533.5 210.3 L532.9 210.2 L532.3 210.0 L531.7 211.8 L531.1 210.1 L530.5 210.4 L529.9 209.6 L529.3 209.8 L528.7 209.8 L528.1 209.7 L527.5 209.9 L526.9 210.7 L526.3 210.4 L525.7 211.1 L525.1 210.9 L524.5 210.5 L523.9 210.3 L523.3 210.1 L522.7 210.2 L522.1 210.1 L521.5 209.9 L520.9 210.1 L520.3 210.7 L519.7 209.9 L519.1 210.3 L518.5 211.0 L517.9 211.3 L517.3 210.3 L516.7 211.1 L516.1 209.9 L515.5 210.3 L514.9 211.3 L514.3 210.6 L513.7 210.1 L513.1 210.1 L512.5 210.4 L511.9 210.1 L511.3 210.8 L510.7 210.4 L510.1 210.3 L509.5 210.5 L508.9 210.8 L508.3 211.1 L507.7 210.4 L507.1 210.3 L506.5 210.3 L505.9 210.7 L505.3 209.9 L504.7 209.6 L504.1 209.6 L503.5 209.7 L502.9 209.6 L502.3 209.2 L501.7 209.5 L501.1 210.1 L500.5 210.2 L499.9 210.1 L499.3 210.4 L498.7 210.7 L498.1 210.4 L497.5 210.2 L496.9 210.6 L496.3 211.1 L495.7 211.6 L495.1 211.5 L494.5 210.7 L493.9 211.2 L493.3 211.5 L492.7 211.3 L492.1 210.9 L491.5 211.7 L490.9 211.2 L490.3 210.4 L489.7 210.3 L489.1 210.1 L488.5 210.0 L487.9 210.4 L487.3 210.2 L486.7 210.3 L486.1 210.5 L485.5 210.9 L484.9 211.0 L484.3 210.5 L483.7 210.4 L483.1 210.5 L482.5 211.4 L481.9 210.8 L481.3 210.9 L480.7 210.5 L480.1 211.7 L479.5 211.1 L478.9 211.3 L478.3 211.5 L477.7 211.0 L477.1 211.6 L476.5 211.8 L475.9 211.5 L475.3 211.5 L474.7 211.1 L474.1 211.4 L473.5 212.0 L472.9 211.6 L472.3 211.2 L471.7 211.0 L471.1 210.8 L470.5 210.7 L469.9 210.4 L469.3 210.6 L468.7 211.4 L468.1 210.3 L467.5 210.3 L466.9 211.4 L466.3 210.6 L465.7 211.7 L465.1 210.8 L464.5 210.4 L463.9 210.8 L463.3 210.4 L462.7 210.7 L462.1 209.9 L461.5 210.2 L460.9 210.1 L460.3 210.4 L459.7 209.5 L459.1 209.9 L458.5 209.6 L457.9 210.0 L457.3 210.0 L456.7 211.1 L456.1 210.7 L455.5 210.1 L454.9 210.6 L454.3 210.5 L453.7 211.3 L453.1 210.6 L452.5 210.3 L451.9 211.7 L451.3 210.5 L450.7 210.5 L450.1 210.3 L449.5 210.7 L448.9 210.9 L448.3 210.3 L447.7 210.8 L447.1 209.9 L446.5 210.3 L445.9 210.7 L445.3 210.3 L444.7 210.6 L444.1 210.3 L443.5 210.3 L442.9 210.1 L442.3 209.8 L441.7 209.3 L441.1 209.8 L440.5 210.1 L439.9 210.5 L439.3 210.1 L438.7 210.1 L438.1 210.8 L437.5 210.2 L436.9 210.7 L436.3 210.3 L435.7 211.2 L435.1 210.7 L434.5 210.1 L433.9 210.2 L433.3 210.1 L432.7 210.1 L432.1 209.9 L431.5 209.5 L430.9 209.7 L430.3 209.9 L429.7 210.0 L429.1 209.9 L428.5 210.1 L427.9 210.0 L427.3 210.4 L426.7 210.3 L426.1 210.6 L425.5 210.1 L424.9 210.4 L424.3 210.4 L423.7 210.7 L423.1 210.6 L422.5 210.1 L421.9 210.4 L421.3 210.8 L420.7 210.9 L420.1 212.0 L419.5 209.9 L418.9 210.7 L418.3 210.0 L417.7 210.5 L417.1 210.6 L416.5 210.1 L415.9 210.7 L415.3 210.3 L414.7 210.0 L414.1 209.6 L413.5 209.6 L412.9 210.4 L412.3 210.4 L411.7 209.8 L411.1 210.0 L410.5 210.2 L409.9 211.0 L409.3 210.4 L408.7 211.0 L408.1 210.5 L407.5 210.7 L406.9 210.5 L406.3 211.4 L405.7 210.9 L405.1 211.6 L404.5 210.7 L403.9 210.9 L403.3 210.7 L402.7 210.2 L402.1 210.5 L401.5 210.2 L400.9 210.4 L400.3 210.2 L399.7 210.4 L399.1 210.6 L398.5 210.5 L397.9 210.9 L397.3 210.5 L396.7 210.8 L396.1 211.1 L395.5 211.2 L394.9 210.8 L394.3 211.8 L393.7 211.3 L393.1 211.3 L392.5 211.0 L391.9 211.4 L391.3 210.8 L390.7 210.9 L390.1 210.6 L389.5 210.4 L388.9 210.3 L388.3 210.6 L387.7 210.6 L387.1 210.6 L386.5 210.1 L385.9 210.5 L385.3 211.9 L384.7 210.8 L384.1 210.6 L383.5 210.8 L382.9 210.7 L382.3 210.7 L381.7 211.0 L381.1 211.2 L380.5 211.4 L379.9 212.7 L379.3 211.2 L378.7 211.3 L378.1 211.3 L377.5 211.5 L376.9 211.2 L376.3 211.1 L375.7 211.2 L375.1 211.5 L374.5 211.9 L373.9 211.5 L373.3 211.3 L372.7 211.1 L372.1 211.2 L371.5 210.6 L370.9 211.2 L370.3 210.6 L369.7 211.0 L369.1 210.7 L368.5 211.2 L367.9 210.5 L367.3 210.4 L366.7 210.7 L366.1 211.0 L365.5 210.5 L364.9 210.1 L364.3 210.8 L363.7 210.2 L363.1 210.7 L362.5 210.2 L361.9 209.8 L361.3 209.4 L360.7 210.1 L360.1 209.9 L359.5 209.9 L358.9 209.7 L358.3 210.1 L357.7 210.0 L357.1 210.7 L356.5 211.0 L355.9 210.1 L355.3 210.1 L354.7 210.6 L354.1 210.5 L353.5 210.5 L352.9 210.9 L352.3 210.8 L351.7 210.3 L351.1 210.2 L350.5 210.1 L349.9 209.8 L349.3 211.1 L348.7 210.1 L348.1 210.4 L347.5 210.8 L346.9 211.2 L346.3 210.4 L345.7 210.5 L345.1 210.4 L344.5 211.2 L343.9 211.2 L343.3 210.6 L342.7 210.5 L342.1 211.4 L341.5 211.2 L340.9 211.1 L340.3 211.1 L339.7 211.1 L339.1 210.2 L338.5 210.5 L337.9 210.4 L337.3 210.9 L336.7 210.8 L336.1 210.4 L335.5 210.2 L334.9 210.8 L334.3 211.0 L333.7 210.9 L333.1 210.8 L332.5 210.4 L331.9 210.6 L331.3 210.8 L330.7 210.4 L330.1 210.8 L329.5 210.4 L328.9 210.4 L328.3 210.5 L327.7 211.0 L327.1 210.3 L326.5 210.0 L325.9 210.0 L325.3 210.6 L324.7 210.4 L324.1 210.9 L323.5 210.6Z" fill="#30bf47"/>
<path d="M20.5 326.2H138.9" stroke="#f5b6f1" stroke-width="2.3" fill="none"/>
<path d="M144.6 326.2H556.0" stroke="#f5b6f1" stroke-width="2.3" fill="none"/>
<path d="M20.5 326.2H138.9M144.6 326.2H556.0" stroke="#e85ae2" stroke-width="1.05" fill="none"/>
<path d="M138.9 326.2V246.8Q138.9 245.8 140.2 245.8H143.6Q144.6 245.8 144.6 246.8V326.2" stroke="#ee8cea" stroke-width="0.9" fill="none"/>
<text x="56.3" y="53.6" font-size="12" fill="#d2a227" textLength="18.2" lengthAdjust="spacingAndGlyphs">Vin</text>
<text x="51.8" y="110.9" font-size="12" fill="#2424c4" textLength="27.4" lengthAdjust="spacingAndGlyphs">Vout</text>
<path d="M62.3 194.3V203.0" stroke="#1d8f2a" stroke-width="1.35" fill="none"/>
<path d="M60.4 194.8H64.2M60.4 202.5H64.2" stroke="#1d8f2a" stroke-width="1.05" fill="none"/>
<text x="65.8" y="203.0" font-size="12" fill="#1d8f2a" textLength="9.2" lengthAdjust="spacingAndGlyphs">in</text>
<path d="M53.7 298.6V307.3" stroke="#d822cc" stroke-width="1.35" fill="none"/>
<path d="M51.800000000000004 299.1H55.6M51.800000000000004 306.8H55.6" stroke="#d822cc" stroke-width="1.05" fill="none"/>
<text x="56.2" y="307.3" font-size="12" fill="#d822cc" textLength="19.1" lengthAdjust="spacingAndGlyphs">out</text>
<path d="M20.5 342.0V11.8H556.0" stroke="#3a3a3a" stroke-width="1.15" fill="none"/>
<path d="M20.5 342.3H556.0" stroke="#333" stroke-width="1.2" fill="none"/>
<path d="M556.0 99V407.4" stroke="#555" stroke-width="2" fill="none"/>
<path d="M133.5 12.3H144.7L139.1 21Z" fill="#e8112d"/>
<path d="M20.6 305.6H33.2L37.4 309.6L33.2 313.7H20.6Z" fill="#ecebff" stroke="#3434b4" stroke-width="1.3"/>
<text x="24.3" y="312.2" font-size="6.6" font-weight="bold" fill="#2b2bb8" textLength="8.6" lengthAdjust="spacingAndGlyphs">C1</text>
<path d="M20.6 321.8H30.6L34.6 326.1L30.6 330.4H20.6Z" fill="#fbe0fa" stroke="#e24be0" stroke-width="1.3"/>
<text x="23" y="328.6" font-size="6.4" font-weight="bold" fill="#e24be0" textLength="8" lengthAdjust="spacingAndGlyphs">C2</text>
<defs>
<linearGradient id="bar" x1="0" y1="0" x2="0" y2="1"><stop offset="0" stop-color="#747474"/><stop offset="0.45" stop-color="#474747"/><stop offset="1" stop-color="#161616"/></linearGradient>
<linearGradient id="tab" x1="0" y1="0" x2="0" y2="1"><stop offset="0" stop-color="#3a3a3a"/><stop offset="1" stop-color="#232323"/></linearGradient>
<linearGradient id="gold" x1="0" y1="0" x2="0" y2="1"><stop offset="0" stop-color="#f0cf6c"/><stop offset="1" stop-color="#b98a24"/></linearGradient>
</defs>
<rect x="20.5" y="346" width="535.5" height="18.6" fill="url(#bar)"/>
<path d="M51.6 346H134.2V346.5Q131.2 347 131.2 350.8V364.6H54.6V350.8Q54.6 347 51.6 346.5Z" fill="url(#tab)"/>
<path d="M51.4 346.5Q54.6 347 54.6 350.8V364.6M131.2 364.6V350.8Q131.2 347 134.4 346.5" fill="none" stroke="#cfcfcf" stroke-width="0.9"/>
<text x="61.4" y="359.6" font-size="8" font-weight="bold" fill="#fff" textLength="49" lengthAdjust="spacingAndGlyphs">Meas Results</text>
<rect x="118.6" y="352" width="9.6" height="9.2" rx="1.5" fill="#43d6d6" stroke="#1b8f92" stroke-width="0.8"/>
<path d="M120.8 354.1L126 359.2M126 354.1L120.8 359.2" stroke="#07171a" stroke-width="1.7" fill="none"/>
<rect x="20.5" y="364.6" width="535.5" height="42.8" fill="#c2bdb9"/>
<text x="21.4" y="372.8" font-size="8.2" font-weight="bold" fill="#1c1c1c" textLength="27.8" lengthAdjust="spacingAndGlyphs">Meas 1</text>
<rect x="58.9" y="366.2" width="8.2" height="8.2" rx="1.2" fill="#2222e8"/>
<text x="63.0" y="372.6" font-size="5" fill="#8080ff" text-anchor="middle">M</text>
<rect x="20.8" y="375.6" width="62.4" height="9.0" fill="#c0bbb7"/>
<path d="M20.8 384.6V375.6H83.2" stroke="#6e6e6e" stroke-width="1" fill="none"/>
<path d="M83.2 375.6V384.6H20.8" stroke="#e4e2dc" stroke-width="0.8" fill="none"/>
<rect x="84.2" y="375.6" width="62.5" height="9.0" fill="#929292"/>
<path d="M84.2 384.6V375.6H146.7" stroke="#6e6e6e" stroke-width="1" fill="none"/>
<path d="M146.7 375.6V384.6H84.2" stroke="#e4e2dc" stroke-width="0.8" fill="none"/>
<text x="22.8" y="383.2" font-size="8.2" font-weight="bold" fill="#1c1c1c" textLength="13.4" lengthAdjust="spacingAndGlyphs">Min</text>
<text x="143.9" y="383.2" font-size="8.2" font-weight="bold" fill="#1c1c1c" text-anchor="end" textLength="36.2" lengthAdjust="spacingAndGlyphs">2.9593 V</text>
<text x="21.4" y="393.2" font-size="8.2" font-weight="bold" fill="#1c1c1c" textLength="27.8" lengthAdjust="spacingAndGlyphs">Meas 2</text>
<rect x="58.9" y="386.6" width="8.2" height="8.2" rx="1.2" fill="#2222e8"/>
<text x="63.0" y="393.0" font-size="5" fill="#8080ff" text-anchor="middle">M</text>
<rect x="20.8" y="396.0" width="62.4" height="9.0" fill="#c0bbb7"/>
<path d="M20.8 405.0V396.0H83.2" stroke="#6e6e6e" stroke-width="1" fill="none"/>
<path d="M83.2 396.0V405.0H20.8" stroke="#e4e2dc" stroke-width="0.8" fill="none"/>
<rect x="84.2" y="396.0" width="62.5" height="9.0" fill="#929292"/>
<path d="M84.2 405.0V396.0H146.7" stroke="#6e6e6e" stroke-width="1" fill="none"/>
<path d="M146.7 396.0V405.0H84.2" stroke="#e4e2dc" stroke-width="0.8" fill="none"/>
<text x="22.8" y="403.6" font-size="8.2" font-weight="bold" fill="#1c1c1c" textLength="15.6" lengthAdjust="spacingAndGlyphs">Max</text>
<text x="143.9" y="403.6" font-size="8.2" font-weight="bold" fill="#1c1c1c" text-anchor="end" textLength="36.2" lengthAdjust="spacingAndGlyphs">3.0443 V</text>
<text x="148.9" y="372.8" font-size="8.2" font-weight="bold" fill="#1c1c1c" textLength="27.8" lengthAdjust="spacingAndGlyphs">Meas 3</text>
<rect x="186.3" y="366.2" width="8.2" height="8.2" rx="1.2" fill="#f2b01e"/>
<text x="190.4" y="372.6" font-size="5" fill="#ffe090" text-anchor="middle">M</text>
<rect x="148.0" y="375.6" width="62.5" height="9.0" fill="#c0bbb7"/>
<path d="M148.0 384.6V375.6H210.5" stroke="#6e6e6e" stroke-width="1" fill="none"/>
<path d="M210.5 375.6V384.6H148.0" stroke="#e4e2dc" stroke-width="0.8" fill="none"/>
<rect x="211.5" y="375.6" width="60.1" height="9.0" fill="#929292"/>
<path d="M211.5 384.6V375.6H271.6" stroke="#6e6e6e" stroke-width="1" fill="none"/>
<path d="M271.6 375.6V384.6H211.5" stroke="#e4e2dc" stroke-width="0.8" fill="none"/>
<text x="150.0" y="383.2" font-size="8.2" font-weight="bold" fill="#1c1c1c" textLength="13.4" lengthAdjust="spacingAndGlyphs">Min</text>
<text x="268.8" y="383.2" font-size="8.2" font-weight="bold" fill="#1c1c1c" text-anchor="end" textLength="35.8" lengthAdjust="spacingAndGlyphs">3.5926 A</text>
<text x="148.9" y="393.2" font-size="8.2" font-weight="bold" fill="#1c1c1c" textLength="27.8" lengthAdjust="spacingAndGlyphs">Meas 4</text>
<rect x="186.3" y="386.6" width="8.2" height="8.2" rx="1.2" fill="#f2b01e"/>
<text x="190.4" y="393.0" font-size="5" fill="#ffe090" text-anchor="middle">M</text>
<rect x="148.0" y="396.0" width="62.5" height="9.0" fill="#c0bbb7"/>
<path d="M148.0 405.0V396.0H210.5" stroke="#6e6e6e" stroke-width="1" fill="none"/>
<path d="M210.5 396.0V405.0H148.0" stroke="#e4e2dc" stroke-width="0.8" fill="none"/>
<rect x="211.5" y="396.0" width="60.1" height="9.0" fill="#929292"/>
<path d="M211.5 405.0V396.0H271.6" stroke="#6e6e6e" stroke-width="1" fill="none"/>
<path d="M271.6 396.0V405.0H211.5" stroke="#e4e2dc" stroke-width="0.8" fill="none"/>
<text x="150.0" y="403.6" font-size="8.2" font-weight="bold" fill="#1c1c1c" textLength="15.6" lengthAdjust="spacingAndGlyphs">Max</text>
<text x="268.8" y="403.6" font-size="8.2" font-weight="bold" fill="#1c1c1c" text-anchor="end" textLength="35.8" lengthAdjust="spacingAndGlyphs">3.6094 A</text>
<text x="275.7" y="372.8" font-size="8.2" font-weight="bold" fill="#1c1c1c" textLength="27.8" lengthAdjust="spacingAndGlyphs">Meas 5</text>
<rect x="313.2" y="366.2" width="8.2" height="8.2" rx="1.2" fill="#f21ff0"/>
<text x="317.3" y="372.6" font-size="5" fill="#ff9cff" text-anchor="middle">M</text>
<rect x="274.7" y="375.6" width="62.5" height="9.0" fill="#c0bbb7"/>
<path d="M274.7 384.6V375.6H337.2" stroke="#6e6e6e" stroke-width="1" fill="none"/>
<path d="M337.2 375.6V384.6H274.7" stroke="#e4e2dc" stroke-width="0.8" fill="none"/>
<rect x="338.2" y="375.6" width="60.5" height="9.0" fill="#929292"/>
<path d="M338.2 384.6V375.6H398.7" stroke="#6e6e6e" stroke-width="1" fill="none"/>
<path d="M398.7 375.6V384.6H338.2" stroke="#e4e2dc" stroke-width="0.8" fill="none"/>
<text x="276.7" y="383.2" font-size="8.2" font-weight="bold" fill="#1c1c1c" textLength="16" lengthAdjust="spacingAndGlyphs">Low</text>
<text x="395.9" y="383.2" font-size="8.2" font-weight="bold" fill="#1c1c1c" text-anchor="end" textLength="36.2" lengthAdjust="spacingAndGlyphs">158.1 µA</text>
<text x="275.7" y="393.2" font-size="8.2" font-weight="bold" fill="#1c1c1c" textLength="27.8" lengthAdjust="spacingAndGlyphs">Meas 6</text>
<rect x="313.2" y="386.6" width="8.2" height="8.2" rx="1.2" fill="#f21ff0"/>
<text x="317.3" y="393.0" font-size="5" fill="#ff9cff" text-anchor="middle">M</text>
<rect x="274.7" y="396.0" width="62.5" height="9.0" fill="#c0bbb7"/>
<path d="M274.7 405.0V396.0H337.2" stroke="#6e6e6e" stroke-width="1" fill="none"/>
<path d="M337.2 396.0V405.0H274.7" stroke="#e4e2dc" stroke-width="0.8" fill="none"/>
<rect x="338.2" y="396.0" width="60.5" height="9.0" fill="#929292"/>
<path d="M338.2 405.0V396.0H398.7" stroke="#6e6e6e" stroke-width="1" fill="none"/>
<path d="M398.7 396.0V405.0H338.2" stroke="#e4e2dc" stroke-width="0.8" fill="none"/>
<text x="276.7" y="403.6" font-size="8.2" font-weight="bold" fill="#1c1c1c" textLength="17.4" lengthAdjust="spacingAndGlyphs">High</text>
<text x="395.9" y="403.6" font-size="8.2" font-weight="bold" fill="#1c1c1c" text-anchor="end" textLength="43.8" lengthAdjust="spacingAndGlyphs">97.391 mA</text>
<path d="M527.2 10.2H619V98.6H532.2Q527.2 98.6 527.2 93.6Z" fill="#b3b3b3"/>
<rect x="527.2" y="10.2" width="91.8" height="10.3" fill="#fff"/>
<rect x="527.2" y="65.3" width="91.8" height="9.6" fill="#fff"/>
<path d="M527.2 10.2H619" stroke="#8a8a8a" stroke-width="0.8" fill="none"/>
<path d="M527.2 10.2V93.6Q527.2 98.6 532.2 98.6H619" stroke="#1a1a1a" stroke-width="1.9" fill="none"/>
<text x="532.7" y="19.1" font-size="11" fill="#111" text-anchor="start" stroke="#111" stroke-width="0.15" textLength="52.5" lengthAdjust="spacingAndGlyphs">Horizontal</text>
<text x="529.2" y="29.9" font-size="10.3" fill="#3a3a3a" text-anchor="start" textLength="19.7" lengthAdjust="spacingAndGlyphs">2 ns</text>
<text x="618.0" y="29.9" font-size="10.3" fill="#3a3a3a" text-anchor="end" textLength="44.5" lengthAdjust="spacingAndGlyphs">500 MSa/</text>
<text x="529.2" y="40.5" font-size="10.3" fill="#8a8a8a" text-anchor="start" textLength="34.5" lengthAdjust="spacingAndGlyphs">50 MSa</text>
<text x="617.4" y="40.8" font-size="10.6" fill="#111" text-anchor="end" font-weight="bold" textLength="13.1" lengthAdjust="spacingAndGlyphs">RT</text>
<text x="529.2" y="51.3" font-size="10.3" fill="#3a3a3a" text-anchor="start" textLength="46.6" lengthAdjust="spacingAndGlyphs">10 ms/div</text>
<text x="617.8" y="51.5" font-size="10.6" fill="#111" text-anchor="end" font-weight="bold" textLength="15.2" lengthAdjust="spacingAndGlyphs">HD</text>
<text x="529.2" y="62.0" font-size="10.3" fill="#3a3a3a" text-anchor="start" textLength="13.9" lengthAdjust="spacingAndGlyphs">0 s</text>
<text x="533.0" y="73.4" font-size="11" fill="#111" text-anchor="start" stroke="#111" stroke-width="0.15" textLength="36.9" lengthAdjust="spacingAndGlyphs">Trigger</text>
<text x="618.4" y="73.2" font-size="10.3" fill="#b144b4" text-anchor="end" textLength="34.8" lengthAdjust="spacingAndGlyphs">Normal</text>
<text x="529.2" y="84.7" font-size="10.3" fill="#3a3a3a" text-anchor="start" textLength="22.8" lengthAdjust="spacingAndGlyphs">Edge</text>
<path d="M556.8 85.6H561.8V77.2H567.8M559.2 82.4L561.8 78.8L564.4 82.4" stroke="#222" stroke-width="1.15" fill="none"/>
<text x="569.6" y="84.7" font-size="10.3" fill="#c653c6" text-anchor="start" textLength="18.1" lengthAdjust="spacingAndGlyphs">Ch2</text>
<text x="529.2" y="95.3" font-size="10.3" fill="#3a3a3a" text-anchor="start" textLength="51.1" lengthAdjust="spacingAndGlyphs">33.571 mA</text>
<rect x="542.2" y="113.5" width="70.3" height="54.2" rx="4.5" fill="#fff" stroke="#8c8c8c" stroke-width="1"/>
<path d="M542.2 124.1V118.0Q542.2 113.5 546.7 113.5H608.0Q612.5 113.5 612.5 118.0V124.1Z" fill="#2222e6"/>
<text x="567.7" y="122.8" font-size="10.4" fill="#fff" text-anchor="middle" textLength="19.4" lengthAdjust="spacingAndGlyphs">Ch1</text>
<rect x="595.1" y="115.2" width="15.1" height="8.3" rx="3" fill="#dcc58a"/>
<rect x="596.0" y="116.1" width="13.3" height="6.5" rx="2.3" fill="#7d5a1c"/>
<rect x="596.8" y="116.8" width="11.7" height="5.1" rx="1.7" fill="url(#gold)"/>
<rect x="599.2" y="118.3" width="6.9" height="2.1" rx="0.5" fill="#4a1e06"/>
<text x="545.0" y="134.1" font-size="10.3" fill="#3a3a3a" text-anchor="start" textLength="53.9" lengthAdjust="spacingAndGlyphs">500 mV/div</text>
<text x="545.0" y="144.2" font-size="10.3" fill="#3a3a3a" text-anchor="start" textLength="22.8" lengthAdjust="spacingAndGlyphs">1 div</text>
<text x="545.0" y="154.2" font-size="10.3" fill="#a6a6a6" text-anchor="start" textLength="24.6" lengthAdjust="spacingAndGlyphs">2.5 V</text>
<text x="545.0" y="164.2" font-size="10.3" fill="#3a3a3a" text-anchor="start" textLength="37.9" lengthAdjust="spacingAndGlyphs">DC 1MΩ</text>
<rect x="542.2" y="182.6" width="70.3" height="54.2" rx="4.5" fill="#fff" stroke="#8c8c8c" stroke-width="1"/>
<path d="M542.2 193.2V187.1Q542.2 182.6 546.7 182.6H608.0Q612.5 182.6 612.5 187.1V193.2Z" fill="#f41be2"/>
<text x="567.7" y="191.9" font-size="10.4" fill="#fff" text-anchor="middle" textLength="19.4" lengthAdjust="spacingAndGlyphs">Ch2</text>
<rect x="595.1" y="184.3" width="15.1" height="8.3" rx="3" fill="#dcc58a"/>
<rect x="596.0" y="185.2" width="13.3" height="6.5" rx="2.3" fill="#7d5a1c"/>
<rect x="596.8" y="185.9" width="11.7" height="5.1" rx="1.7" fill="url(#gold)"/>
<rect x="599.2" y="187.4" width="6.9" height="2.1" rx="0.5" fill="#4a1e06"/>
<text x="545.0" y="203.2" font-size="10.3" fill="#3a3a3a" text-anchor="start" textLength="48.1" lengthAdjust="spacingAndGlyphs">40 mA/div</text>
<text x="545.0" y="213.2" font-size="10.3" fill="#3a3a3a" text-anchor="start" textLength="36.2" lengthAdjust="spacingAndGlyphs">-4.5 div</text>
<text x="545.0" y="223.3" font-size="10.3" fill="#a6a6a6" text-anchor="start" textLength="15.4" lengthAdjust="spacingAndGlyphs">0 A</text>
<text x="545.0" y="233.3" font-size="10.3" fill="#3a3a3a" text-anchor="start" textLength="37.9" lengthAdjust="spacingAndGlyphs">DC 1MΩ</text>
<rect x="542.2" y="251.5" width="70.3" height="54.2" rx="4.5" fill="#dcf4dc" stroke="#35a845" stroke-width="1.4"/>
<path d="M542.2 262.1V256.0Q542.2 251.5 546.7 251.5H608.0Q612.5 251.5 612.5 256.0V262.1Z" fill="#25a538"/>
<text x="567.7" y="260.8" font-size="10.4" fill="#fff" text-anchor="middle" textLength="19.4" lengthAdjust="spacingAndGlyphs">Ch3</text>
<rect x="595.1" y="253.2" width="15.1" height="8.3" rx="3" fill="#dcc58a"/>
<rect x="596.0" y="254.1" width="13.3" height="6.5" rx="2.3" fill="#7d5a1c"/>
<rect x="596.8" y="254.8" width="11.7" height="5.1" rx="1.7" fill="url(#gold)"/>
<rect x="599.2" y="256.3" width="6.9" height="2.1" rx="0.5" fill="#4a1e06"/>
<text x="545.0" y="272.1" font-size="10.3" fill="#3a3a3a" text-anchor="start" textLength="42.2" lengthAdjust="spacingAndGlyphs">2 mA/div</text>
<text x="545.0" y="282.2" font-size="10.3" fill="#3a3a3a" text-anchor="start" textLength="27.0" lengthAdjust="spacingAndGlyphs">-1 div</text>
<text x="545.0" y="292.2" font-size="10.3" fill="#9cae9c" text-anchor="start" textLength="15.4" lengthAdjust="spacingAndGlyphs">0 A</text>
<text x="545.0" y="302.2" font-size="10.3" fill="#3a3a3a" text-anchor="start" textLength="37.9" lengthAdjust="spacingAndGlyphs">DC 1MΩ</text>
<rect x="542.2" y="320.0" width="70.3" height="54.2" rx="4.5" fill="#fff" stroke="#8c8c8c" stroke-width="1"/>
<path d="M542.2 330.6V324.5Q542.2 320.0 546.7 320.0H608.0Q612.5 320.0 612.5 324.5V330.6Z" fill="#c8952a"/>
<text x="567.7" y="329.3" font-size="10.4" fill="#fff3c4" text-anchor="middle" textLength="19.4" lengthAdjust="spacingAndGlyphs">Ch4</text>
<rect x="595.1" y="321.7" width="15.1" height="8.3" rx="3" fill="#dcc58a"/>
<rect x="596.0" y="322.6" width="13.3" height="6.5" rx="2.3" fill="#7d5a1c"/>
<rect x="596.8" y="323.3" width="11.7" height="5.1" rx="1.7" fill="url(#gold)"/>
<rect x="599.2" y="324.8" width="6.9" height="2.1" rx="0.5" fill="#4a1e06"/>
<text x="545.0" y="340.6" font-size="10.3" fill="#3a3a3a" text-anchor="start" textLength="48.1" lengthAdjust="spacingAndGlyphs">50 mA/div</text>
<text x="545.0" y="350.7" font-size="10.3" fill="#3a3a3a" text-anchor="start" textLength="27.0" lengthAdjust="spacingAndGlyphs">-5 div</text>
<text x="545.0" y="360.7" font-size="10.3" fill="#a6a6a6" text-anchor="start" textLength="30.4" lengthAdjust="spacingAndGlyphs">3.15 A</text>
<text x="545.0" y="370.8" font-size="10.3" fill="#3a3a3a" text-anchor="start" textLength="37.9" lengthAdjust="spacingAndGlyphs">DC 1MΩ</text>
</g>
</svg>
</body></html>
